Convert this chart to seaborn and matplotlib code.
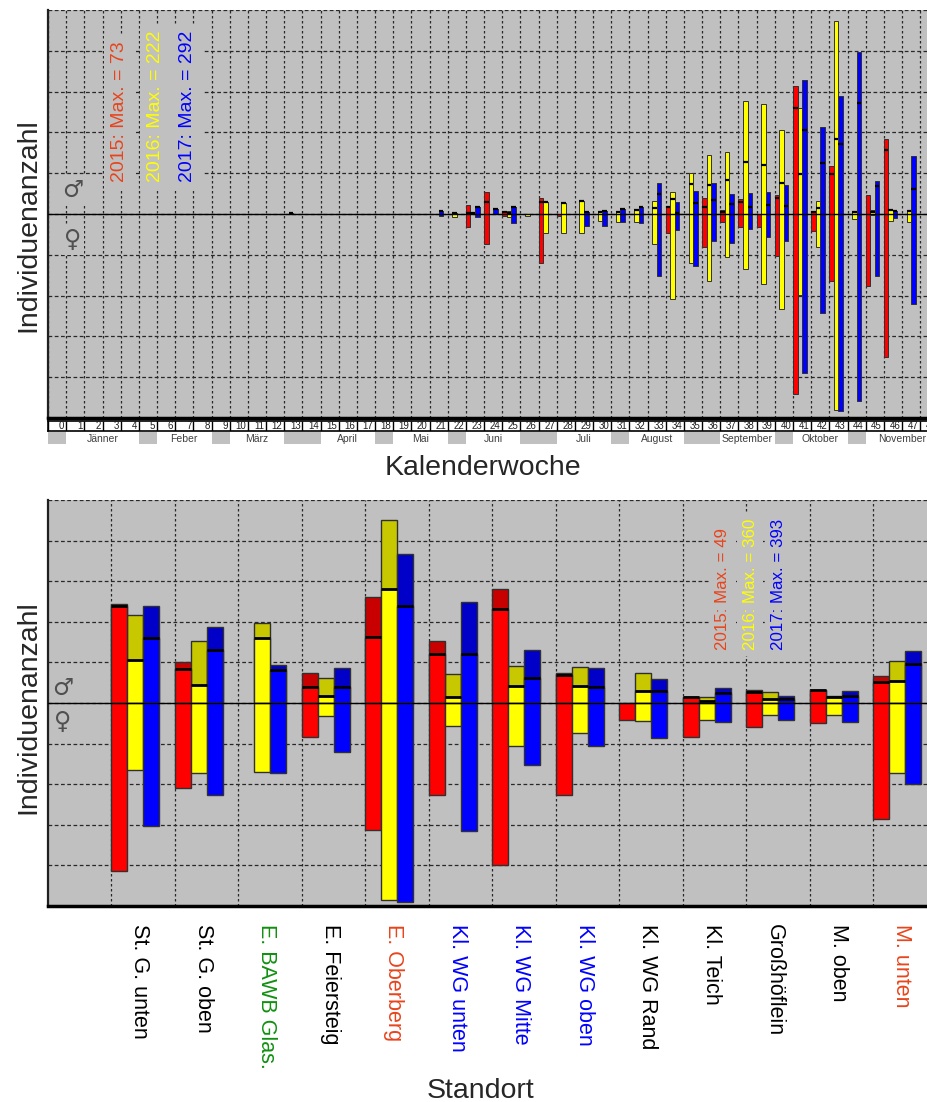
import numpy as np
import pandas as pd
import matplotlib
matplotlib.use("Agg")
import matplotlib.pyplot as plt
import seaborn as sns

sns.set_theme(style="white")
plt.rcParams["font.family"] = ["Liberation Sans", "DejaVu Sans"]

YEARS = ["2015", "2016", "2017"]
BRIGHT = {"2015": "#FF0000", "2016": "#FFFF00", "2017": "#0000FF"}
DARK = {"2015": "#C80000", "2016": "#C8C800", "2017": "#0000C8"}
TXT_COL = ["#E8441C", "#FFFF00", "#0000FF"]
BG = "#C0C0C0"

# --- Kalenderwoche (upper chart), values in grid units ---
WEEKS = [13, 21, 22, 23, 24, 25, 26, 27, 28, 29, 30, 31, 32, 33,
         34, 35, 36, 37, 38, 39, 40, 41, 42, 43, 44, 45, 46, 47]
W15_UP = [0, 0, 0, .22, .53, .04, 0, .40, 0, 0, 0, 0, 0, 0,
          .16, 0, .39, .11, .36, 0, .47, 3.13, .04, 1.18, 0, .47, 1.85, 0]
W15_SPLIT = [0, 0, 0, .03, .30, .04, 0, .30, 0, 0, 0, 0, 0, 0,
             .16, 0, .18, .06, .30, 0, .39, 2.59, .04, .98, 0, 0, 1.57, 0]
W15_DOWN = [0, 0, 0, .31, .73, .06, 0, 1.21, .05, 0, 0, 0, 0, 0,
            .47, 0, .80, .19, .31, .31, 1.02, 4.41, .42, 1.63, 0, 1.76, 3.51, 0]
W16_UP = [.03, 0, .02, .03, 0, .07, .01, .29, .26, .32, .05, .05, .11, .33,
          .55, 1.00, 1.44, 1.51, 2.78, 2.69, 2.07, 2.59, .31, 4.73, .04, .10, .10, .08]
W16_SPLIT = [.03, 0, .02, .03, 0, .03, 0, .29, .26, .32, .05, .05, .11, .14,
             .36, .73, .71, .83, 1.28, 1.20, .75, .98, .14, 1.83, .04, .05, .10, .08]
W16_DOWN = [0, 0, .08, 0, 0, .08, .05, .47, .47, .47, .16, .19, .19, .74,
            2.09, 1.21, 1.64, 1.06, 1.36, 1.71, 2.33, 1.98, .82, 4.80, .12, .02, .16, .19]
W17_UP = [0, .08, 0, .16, .12, .18, 0, 0, 0, .06, .07, .12, .16, .75,
          .30, .57, .75, .48, .51, .53, .71, 3.28, 2.14, 2.90, 3.96, .82, .08, 1.43]
W17_SPLIT = [0, .08, 0, .16, .12, .18, 0, 0, 0, .06, .07, .12, .16, .48,
             .03, .28, .34, .24, .18, .22, .20, 2.06, 1.24, 1.71, 2.73, .69, .08, .61]
W17_DOWN = [0, .04, 0, .07, .01, .21, 0, 0, 0, .29, .29, .19, .21, 1.52,
            .39, 1.27, .65, .70, .37, .57, .65, 3.89, 2.43, 4.84, 4.58, 1.53, .10, 2.20]
MAX_TOP = [73, 222, 292]

MONTHS = ["Jänner", "Feber", "März", "April", "Mai", "Juni", "Juli",
          "August", "September", "Oktober", "November"]
MONTH_FIRST = [1, 6, 10, 15, 19, 23, 28, 32, 37, 41, 45]
MONTH_LAST = [4, 8, 12, 17, 21, 25, 30, 34, 39, 43, 48]
N_WEEKS = 49

# --- Standort (lower chart) ---
LOC = ["St. G. unten", "St. G. oben", "E. BAWB Glas.", "E. Feiersteig",
       "E. Oberberg", "Kl. WG unten", "Kl. WG Mitte", "Kl. WG oben",
       "Kl. WG Rand", "Kl. Teich", "Großhöflein", "M. oben", "M. unten"]
LOC_COL = ["black", "black", "#109010", "black", "#E8441C", "#0000FF", "#0000FF",
           "#0000FF", "black", "black", "black", "black", "#E8441C"]
S15_UP = [2.45, 1.00, 0, 0.75, 2.62, 1.52, 2.80, 0.75, 0, 0.14, 0.32, 0.32, 0.66]
S15_SPLIT = [2.38, 0.84, 0, 0.40, 1.63, 1.20, 2.31, 0.69, 0, 0.14, 0.26, 0.32, 0.51]
S15_DOWN = [4.14, 2.10, 0, 0.84, 3.12, 2.26, 3.98, 2.26, 0.41, 0.84, 0.58, 0.50, 2.85]
S16_UP = [2.17, 1.52, 1.98, 0.61, 4.50, 0.71, 0.90, 0.88, 0.73, 0.14, 0.26, 0.18, 1.04]
S16_SPLIT = [1.06, 0.45, 1.60, 0.18, 2.80, 0.16, 0.43, 0.43, 0.30, 0.06, 0.10, 0.16, 0.53]
S16_DOWN = [1.65, 1.72, 1.69, 0.33, 4.84, 0.57, 1.05, 0.75, 0.45, 0.41, 0.29, 0.30, 1.73]
S17_UP = [2.39, 1.86, 0.93, 0.86, 3.66, 2.48, 1.31, 0.85, 0.59, 0.37, 0.18, 0.29, 1.29]
S17_SPLIT = [1.61, 1.30, 0.81, 0.39, 2.39, 1.20, 0.61, 0.39, 0.29, 0.25, 0.11, 0.18, 0.96]
S17_DOWN = [3.02, 2.26, 1.72, 1.20, 4.89, 3.16, 1.52, 1.07, 0.86, 0.48, 0.43, 0.48, 1.99]
MAX_BOT = [49, 360, 393]


def long_table(keys, ups, splits, downs):
    parts = []
    for yr, u, s, d in zip(YEARS, ups, splits, downs):
        parts.append(pd.DataFrame({"key": [str(k) for k in keys], "year": yr,
                                   "up": u, "split": s, "down": d}))
    df = pd.concat(parts, ignore_index=True)
    df["neg"] = -df["down"]
    return df


def draw_bars(ax, df, col, order, palette, lw):
    sub = df[df[col] != 0]
    n0 = len(ax.patches)
    sns.barplot(data=sub, x="key", y=col, hue="year", order=order,
                hue_order=YEARS, palette=palette, width=0.75, saturation=1,
                errorbar=None, legend=False, edgecolor="#303030",
                linewidth=lw, ax=ax)
    return ax.patches[n0:]


def butterfly(ax, df, order, top_palette, lw, split_lw):
    draw_bars(ax, df, "up", order, top_palette, lw)
    lower = draw_bars(ax, df, "split", order, BRIGHT, lw)
    draw_bars(ax, df, "neg", order, BRIGHT, lw)
    for p in lower:
        h = p.get_height()
        ax.plot([p.get_x(), p.get_x() + p.get_width()], [h, h],
                color="black", lw=split_lw, solid_capstyle="butt", zorder=4)


def style_axes(ax, xedges):
    ax.set_facecolor(BG)
    ax.set_ylim(-5, 5)
    ax.set_yticks(np.arange(-5, 6))
    ax.set_yticklabels([])
    ax.set_xticks(xedges, minor=True)
    ax.tick_params(which="both", length=0)
    ax.set_axisbelow(True)
    ax.grid(True, which="major", axis="y", color="#282828", lw=0.9, ls=(0, (3, 2)))
    ax.grid(True, which="minor", axis="x", color="#282828", lw=0.9, ls=(0, (2, 2)))
    ax.axhline(0, color="black", lw=1.0, zorder=5)
    ax.spines["top"].set_visible(False)
    ax.spines["right"].set_visible(False)
    ax.spines["left"].set_color("#202020")
    ax.spines["left"].set_linewidth(1.6)
    ax.spines["bottom"].set_color("black")
    ax.spines["bottom"].set_linewidth(2.5)
    ax.set_xlabel("")
    ax.set_ylabel("")


def sex_symbols(ax, x, ys, boxed):
    for sym, yy in zip(["♂", "♀"], ys):
        kw = dict(bbox=dict(facecolor=BG, edgecolor="none", pad=2)) if boxed else {}
        ax.text(x, yy, sym, transform=ax.transAxes, ha="center", va="center",
                fontsize=17, color="#505050", zorder=6, family="DejaVu Sans", **kw)


OFF = 0.375
fig = plt.figure(figsize=(9.28, 11.02), dpi=100)
L, W = 48 / 928, 880 / 928
ax1 = fig.add_axes([L, 1 - 418 / 1102, W, 408 / 1102])
axw = fig.add_axes([L, 1 - 431 / 1102, W, 10.5 / 1102])
axm = fig.add_axes([L, 1 - 444 / 1102, W, 12 / 1102])
ax2 = fig.add_axes([L, 1 - 906 / 1102, W, 406 / 1102])

# upper chart
top_df = long_table(WEEKS, [W15_UP, W16_UP, W17_UP],
                    [W15_SPLIT, W16_SPLIT, W17_SPLIT],
                    [W15_DOWN, W16_DOWN, W17_DOWN])
week_order = [str(w) for w in range(N_WEEKS)]
butterfly(ax1, top_df, week_order, BRIGHT, 0.7, 1.6)
week_edges = np.arange(N_WEEKS + 1) - OFF
style_axes(ax1, week_edges)
ax1.set_xticks([])
xlim_top = (-OFF, 48.43 - OFF)
ax1.set_xlim(*xlim_top)

for i, (m, c) in enumerate(zip(MAX_TOP, TXT_COL)):
    ax1.text([0.0818, 0.1216, 0.159][i], 0.578, f"{YEARS[i]}: Max. = {m}",
             transform=ax1.transAxes, rotation=90, ha="center", va="bottom",
             fontsize=14, color=c, zorder=6,
             bbox=dict(facecolor=BG, edgecolor="none", pad=5))
sex_symbols(ax1, 0.0284, [0.559, 0.436], True)
ax1.text(-0.0227, 0.472, "Individuenanzahl", transform=ax1.transAxes,
         rotation=90, ha="center", va="center", fontsize=20.5)

# week number row
axw.set_xlim(*xlim_top)
axw.set_ylim(0, 1)
axw.set_xticks([])
axw.set_yticks([])
axw.set_facecolor("white")
for s in axw.spines.values():
    s.set_color("black")
    s.set_linewidth(1.2)
axw.vlines(week_edges, 0, 1, color="black", lw=1)
for w in range(N_WEEKS):
    axw.text(w + 1 - OFF - 0.1, 0.45, str(w), ha="right", va="center",
             fontsize=7, color="#202020")

# month row
axm.set_xlim(*xlim_top)
axm.set_ylim(0, 1)
axm.axis("off")
covered = set()
for a, b in zip(MONTH_FIRST, MONTH_LAST):
    covered.update(range(a, b + 1))
for w in range(N_WEEKS):
    if w not in covered:
        axm.axvspan(w - OFF, w + 1 - OFF, color=BG, lw=0)
for m, a, b in zip(MONTHS, MONTH_FIRST, MONTH_LAST):
    axm.text((a + b + 1) / 2 - OFF, 0.45, m, ha="center", va="center",
             fontsize=7.5, color="#404040")

fig.text(483 / 928, 1 - 475 / 1102, "Kalenderwoche", ha="center",
         va="baseline", fontsize=20.5)

# lower chart
bot_df = long_table(LOC, [S15_UP, S16_UP, S17_UP],
                    [S15_SPLIT, S16_SPLIT, S17_SPLIT],
                    [S15_DOWN, S16_DOWN, S17_DOWN])
butterfly(ax2, bot_df, LOC, DARK, 1.0, 2.0)
loc_edges = np.arange(len(LOC) + 1) - OFF
style_axes(ax2, loc_edges)
ax2.set_xticks(np.arange(len(LOC)) + 0.07)
ax2.set_xticklabels(LOC, rotation=-90, ha="center", va="top", fontsize=15.5)
for lab, c in zip(ax2.get_xticklabels(), LOC_COL):
    lab.set_color(c)
ax2.tick_params(axis="x", which="major", length=0, pad=13)
ax2.set_xlim(-1 - OFF, -1 - OFF + 13.86)

for i, (m, c) in enumerate(zip(MAX_BOT, TXT_COL)):
    ax2.text([0.767, 0.798, 0.830][i], 0.63, f"{YEARS[i]}: Max. = {m}",
             transform=ax2.transAxes, rotation=90, ha="center", va="bottom",
             fontsize=12.2, color=c, zorder=6,
             bbox=dict(facecolor=BG, edgecolor="none", pad=4))
sex_symbols(ax2, 0.017, [0.537, 0.453], False)
ax2.text(-0.0227, 0.491, "Individuenanzahl", transform=ax2.transAxes,
         rotation=90, ha="center", va="center", fontsize=20.5)

fig.text(481 / 928, 1 - 1098 / 1102, "Standort", ha="center",
         va="baseline", fontsize=20.5)

fig.savefig("out.png", dpi=100, facecolor="white")
